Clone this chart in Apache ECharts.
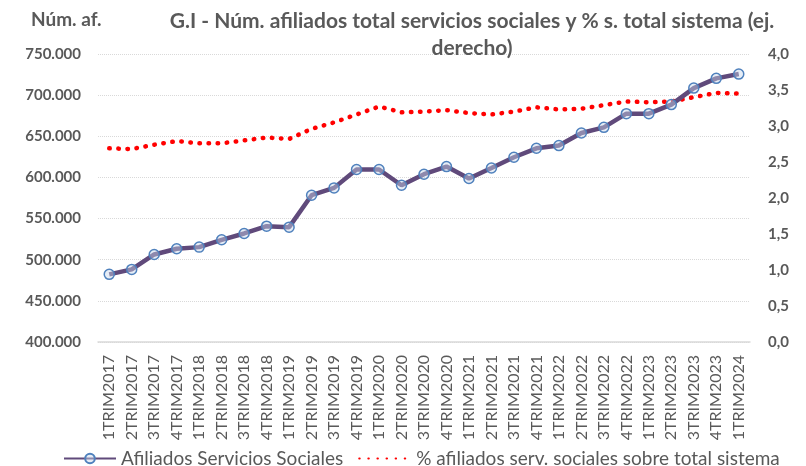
<!DOCTYPE html>
<html>
<head>
<meta charset="utf-8">
<script src="https://cdn.jsdelivr.net/npm/echarts@6/dist/echarts.min.js"></script>
<style>
  html, body { margin: 0; padding: 0; background: #fff; }
  #chart { width: 806px; height: 466px; }
</style>
</head>
<body>
<div id="chart"></div>
<script>
const trimestres = [
  '1TRIM2017', '2TRIM2017', '3TRIM2017', '4TRIM2017',
  '1TRIM2018', '2TRIM2018', '3TRIM2018', '4TRIM2018',
  '1TRIM2019', '2TRIM2019', '3TRIM2019', '4TRIM2019',
  '1TRIM2020', '2TRIM2020', '3TRIM2020', '4TRIM2020',
  '1TRIM2021', '2TRIM2021', '3TRIM2021', '4TRIM2021',
  '1TRIM2022', '2TRIM2022', '3TRIM2022', '4TRIM2022',
  '1TRIM2023', '2TRIM2023', '3TRIM2023', '4TRIM2023',
  '1TRIM2024'
]
// afiliados servicios sociales (eje izquierdo)
const afiliados = [
  482200, 488200, 506400, 513300,
  515300, 524200, 531900, 540800,
  539600, 578400, 587300, 609600,
  609600, 590500, 603900, 613200,
  598700, 611500, 624500, 635400,
  638700, 654000, 660900, 677500,
  677500, 688500, 708600, 720400,
  725600
]
// % sobre total sistema (eje derecho)
const porcentaje = [
  2.69, 2.68, 2.74, 2.79,
  2.76, 2.76, 2.80, 2.84,
  2.82, 2.96, 3.05, 3.16,
  3.27, 3.19, 3.20, 3.22,
  3.18, 3.16, 3.20, 3.26,
  3.23, 3.24, 3.29, 3.34,
  3.33, 3.34, 3.40, 3.46,
  3.45
]

const gris = '#595959'
const fuente = 'Lato'
const serieAf = 'Afiliados Servicios Sociales'
const seriePct = '% afiliados serv. sociales sobre total sistema'

function miles (v) {
  return String(Math.round(v)).replace(/\B(?=(\d{3})+(?!\d))/g, '.')
}

const chart = echarts.init(document.getElementById('chart'))
chart.setOption({
  animation: false,
  title: [
    {
      text: 'Núm. af.',
      left: 26,
      top: 5,
      textStyle: { color: gris, fontFamily: fuente, fontWeight: 'bold', fontSize: 19 }
    },
    {
      text: 'G.I - Núm. afiliados total servicios sociales y % s. total sistema (ej.\nderecho)',
      left: 467,
      top: 3,
      textAlign: 'center',
      textStyle: { color: gris, fontFamily: fuente, fontWeight: 'bold', fontSize: 21, lineHeight: 27 }
    }
  ],
  legend: {
    top: 444,
    left: 58,
    itemWidth: 52,
    itemHeight: 12,
    itemGap: 15,
    textStyle: { color: gris, fontFamily: fuente, fontSize: 19 },
    data: [
      serieAf,
      { name: seriePct, itemStyle: { color: 'rgba(0,0,0,0)', borderWidth: 0 } }
    ]
  },
  grid: { left: 98, right: 56, top: 54, bottom: 124 },
  xAxis: {
    type: 'category',
    data: trimestres,
    axisLine: { lineStyle: { color: '#d9d9d9', width: 1.5 } },
    axisTick: { show: false },
    axisLabel: { rotate: 90, interval: 0, color: gris, fontFamily: fuente, fontSize: 16, margin: 13 }
  },
  yAxis: [
    {
      type: 'value',
      min: 400000,
      max: 750000,
      interval: 50000,
      axisLine: { show: false },
      axisTick: { show: false },
      splitLine: { lineStyle: { color: '#d9d9d9', type: 'dotted', width: 1 } },
      axisLabel: { color: gris, fontFamily: fuente, fontWeight: 'bold', fontSize: 15, margin: 17, formatter: miles }
    },
    {
      type: 'value',
      min: 0,
      max: 4,
      interval: 0.5,
      axisLine: { show: false },
      axisTick: { show: false },
      splitLine: { show: false },
      axisLabel: {
        color: gris, fontFamily: fuente, fontWeight: 'bold', fontSize: 15, margin: 18,
        formatter: v => v.toFixed(1).replace('.', ',')
      }
    }
  ],
  series: [
    {
      name: serieAf,
      type: 'line',
      data: afiliados,
      symbol: 'circle',
      symbolSize: 10,
      lineStyle: { color: '#604a7b', width: 4.5 },
      itemStyle: { color: 'rgba(200,215,235,0.45)', borderColor: '#4f81bd', borderWidth: 1.5 },
      z: 3
    },
    {
      name: seriePct,
      type: 'line',
      yAxisIndex: 1,
      data: porcentaje,
      symbol: 'none',
      lineStyle: { color: '#ff0000', width: 4.5, type: [0.5, 8.6], cap: 'round' },
      itemStyle: { color: '#ff0000' },
      z: 2
    }
  ]
})
</script>
</body>
</html>
